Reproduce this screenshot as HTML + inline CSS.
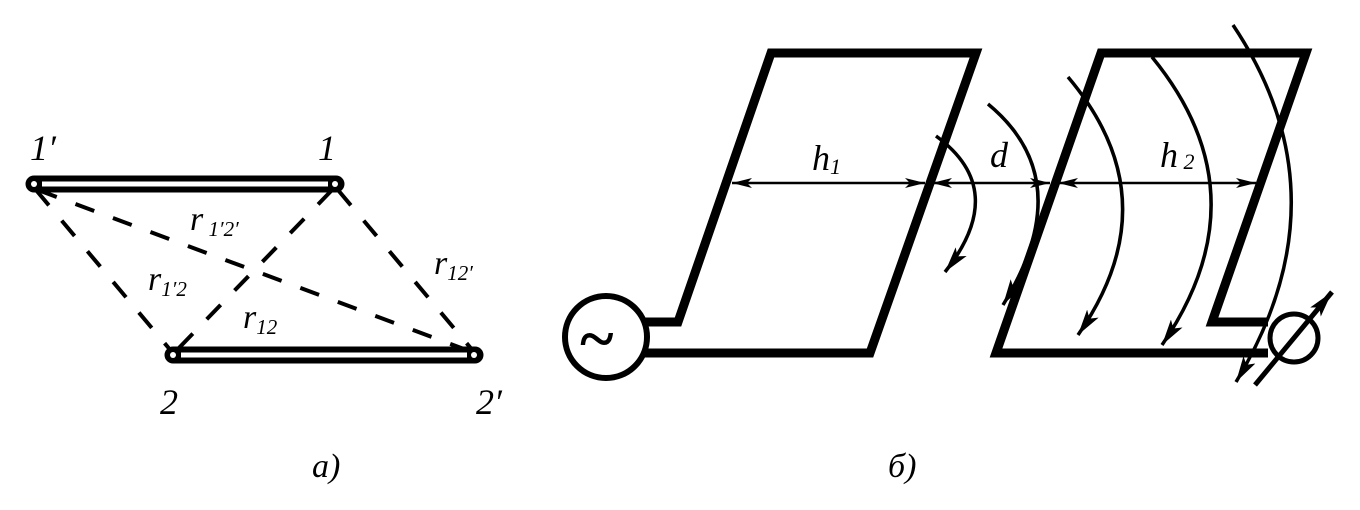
<!DOCTYPE html>
<html><head><meta charset="utf-8"><style>
html,body{margin:0;padding:0;background:#fff;}
svg{display:block;}
text{font-family:"Liberation Serif",serif;font-style:italic;fill:#000;}
</style></head><body>
<svg width="1360" height="510" viewBox="0 0 1360 510" xmlns="http://www.w3.org/2000/svg">
<defs>
<marker id="ah" viewBox="0 0 20 10" refX="20" refY="5" markerWidth="20" markerHeight="10" markerUnits="userSpaceOnUse" orient="auto">
<path d="M0,0 L20,5 L0,10 L5,5 Z" fill="#000"/>
</marker>
<marker id="ah2" viewBox="0 0 26 14" refX="26" refY="7" markerWidth="26" markerHeight="14" markerUnits="userSpaceOnUse" orient="auto">
<path d="M0,0 L26,7 L0,14 L6,7 Z" fill="#000"/>
</marker>
</defs>
<!-- Left diagram -->
<g stroke="#000" stroke-width="4" stroke-dasharray="20,20" fill="none">
<line x1="36" y1="190" x2="172" y2="352"/>
<line x1="38" y1="190" x2="472" y2="352"/>
<line x1="332" y1="190" x2="175" y2="352"/>
<line x1="338" y1="190" x2="474" y2="352"/>
</g>
<g stroke-linecap="round">
<line x1="34" y1="184" x2="336" y2="184" stroke="#000" stroke-width="17"/>
<line x1="42" y1="184" x2="328" y2="184" stroke="#fff" stroke-width="5" stroke-linecap="butt"/>
<line x1="173" y1="355" x2="475" y2="355" stroke="#000" stroke-width="17"/>
<line x1="181" y1="355" x2="467" y2="355" stroke="#fff" stroke-width="5" stroke-linecap="butt"/>
</g>
<circle cx="34" cy="184" r="3" fill="#fff"/><circle cx="335" cy="184" r="3" fill="#fff"/>
<circle cx="173" cy="355" r="3" fill="#fff"/><circle cx="474" cy="355" r="3" fill="#fff"/>
<text x="30" y="160" font-size="36">1′</text>
<text x="318" y="160" font-size="36">1</text>
<text x="160" y="414" font-size="36">2</text>
<text x="476" y="414" font-size="36">2′</text>
<text x="190" y="230" font-size="34">r<tspan font-size="21" dy="6"> 1′2′</tspan></text>
<text x="148" y="290" font-size="34">r<tspan font-size="21" dy="6">1′2</tspan></text>
<text x="434" y="274" font-size="34">r<tspan font-size="21" dy="6">12′</tspan></text>
<text x="243" y="328" font-size="34">r<tspan font-size="21" dy="6">12</tspan></text>
<text x="312" y="477" font-size="34">а)</text>
<text x="888" y="477" font-size="34">б)</text>
<!-- Right diagram -->
<g stroke="#000" stroke-width="9" fill="none" stroke-linejoin="miter">
<polyline points="645,322 678,322 771,53 976,53 870,353 645,353"/>
<polyline points="1268,322 1212,322 1306,53 1101,53 996,353 1268,353"/>
</g>
<circle cx="606" cy="337" r="41" fill="#fff" stroke="#000" stroke-width="6"/>
<text x="578" y="360" font-size="64" font-style="normal" font-weight="bold">~</text>
<circle cx="1294" cy="338" r="24" fill="none" stroke="#000" stroke-width="5"/>
<line x1="1255" y1="385" x2="1332" y2="292" stroke="#000" stroke-width="5" marker-end="url(#ah2)"/>
<!-- dimension line -->
<g stroke="#000" stroke-width="2.5" fill="none">
<line x1="829" y1="183" x2="732" y2="183" marker-end="url(#ah)"/>
<line x1="829" y1="183" x2="925" y2="183" marker-end="url(#ah)"/>
<line x1="990" y1="183" x2="932" y2="183" marker-end="url(#ah)"/>
<line x1="990" y1="183" x2="1050" y2="183" marker-end="url(#ah)"/>
<line x1="1157" y1="183" x2="1058" y2="183" marker-end="url(#ah)"/>
<line x1="1157" y1="183" x2="1256" y2="183" marker-end="url(#ah)"/>
</g>
<text x="812" y="170" font-size="36">h<tspan font-size="22" dy="4">1</tspan></text>
<text x="990" y="167" font-size="36">d</text>
<text x="1160" y="167" font-size="36">h<tspan font-size="22" dy="2"> 2</tspan></text>
<!-- curved arrows -->
<g stroke="#000" stroke-width="3.5" fill="none">
<path d="M936,136 Q1010,190 945,272" marker-end="url(#ah2)"/>
<path d="M988,104 Q1080,180 1003,305" marker-end="url(#ah2)"/>
<path d="M1068,77 Q1172,200 1078,335" marker-end="url(#ah2)"/>
<path d="M1152,57 Q1265,195 1162,345" marker-end="url(#ah2)"/>
<path d="M1233,25 Q1348,197 1236,382" marker-end="url(#ah2)"/>
</g>
</svg>
</body></html>
